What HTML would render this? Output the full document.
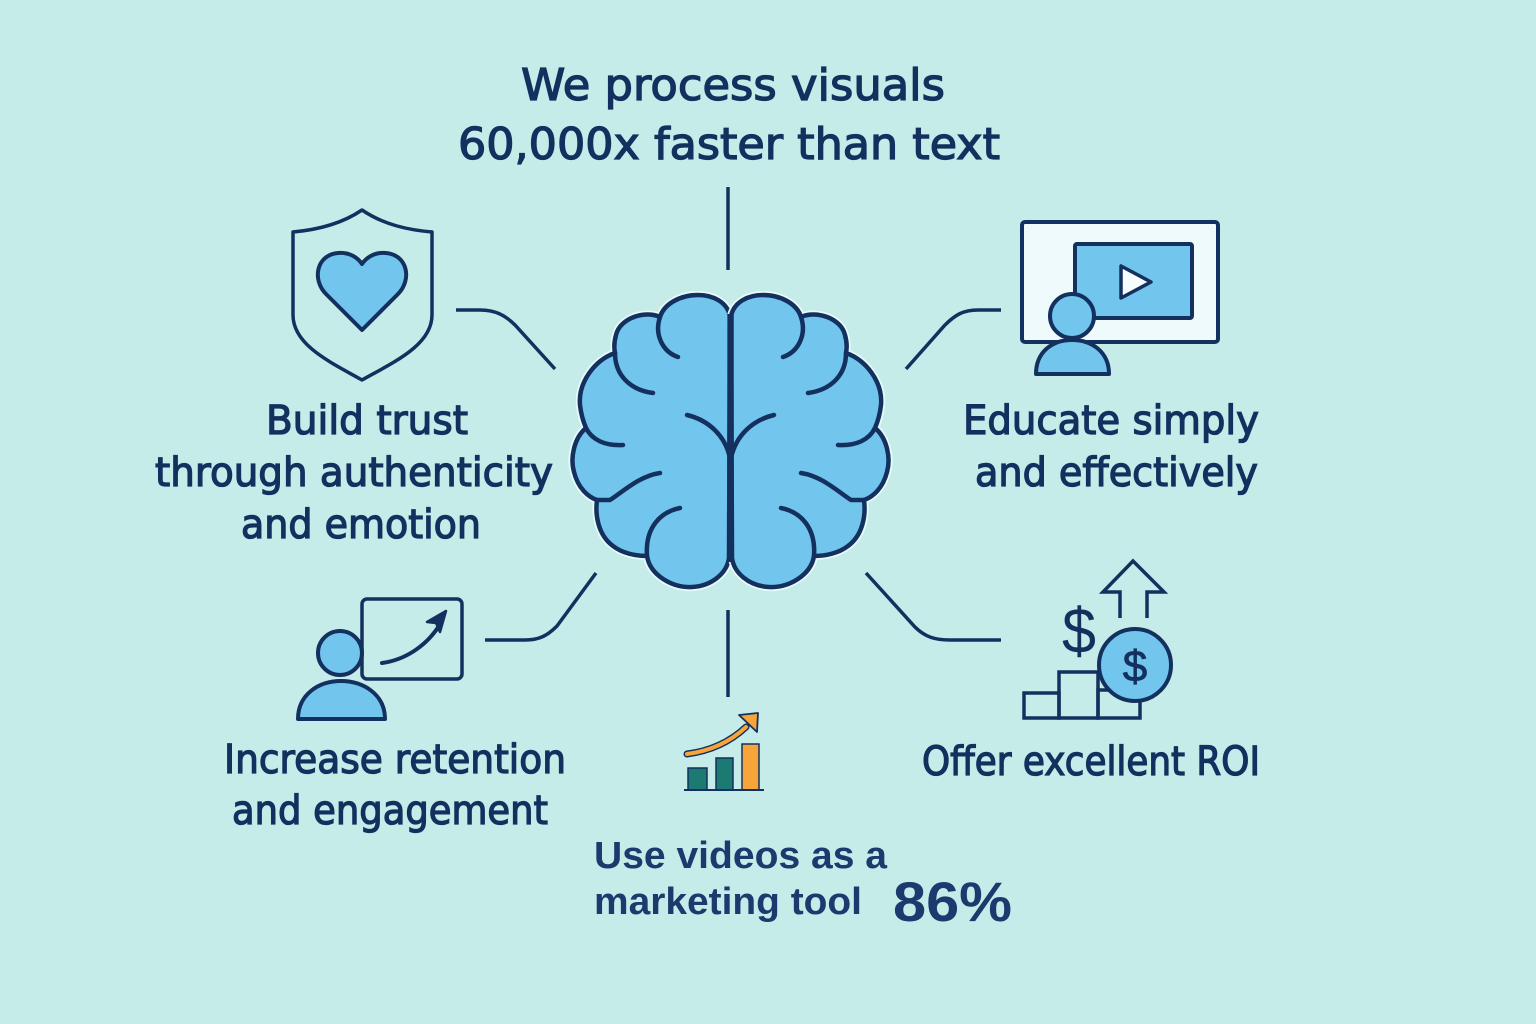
<!DOCTYPE html>
<html><head><meta charset="utf-8"><style>
html,body{margin:0;padding:0;background:#c6ecea;}
svg{display:block;}
.t{font-family:"DejaVu Sans","Liberation Sans",sans-serif;fill:#13305e;stroke:#13305e;stroke-width:1.3px;}
.a{font-family:"Liberation Sans",Arial,sans-serif;font-weight:bold;fill:#1b3a6e;}
</style></head><body>
<svg width="1536" height="1024" viewBox="0 0 1536 1024" xmlns="http://www.w3.org/2000/svg">
<rect width="1536" height="1024" fill="#c6ecea"/>

<!-- Title -->
<text class="t" x="521" y="100" font-size="44" textLength="424" lengthAdjust="spacingAndGlyphs">We process visuals</text>
<text class="t" x="458" y="159" font-size="44" textLength="542" lengthAdjust="spacingAndGlyphs">60,000x faster than text</text>

<!-- connectors -->
<g fill="none" stroke="#13305e" stroke-width="3.5" stroke-linecap="butt">
<path d="M728 187 L728 270"/>
<path d="M728 610 L728 697"/>
<path d="M456 310 L480 310 C495 310 505 315 515 325 L555 369"/>
<path d="M1001 310 L978 310 C963 310 955 315 945 325 L906 369"/>
<path d="M485 640 L525 640 C540 640 548 635 557 626 L596 573"/>
<path d="M866 573 L915 627 C925 637 935 640 950 640 L1001 640"/>
</g>

<!-- Brain -->
<g stroke-linecap="round" stroke-linejoin="round">
<path d="M730 316 C727 302 713 295 698 295 C680 295 664 304 660 317 C645 310 620 318 616 335 C614 342 614 348 615 353 C595 360 578 382 580 405 C581 414 583 421 586 428 C574 438 570 458 574 472 C578 488 588 497 597 500 C595 515 598 535 613 546 C622 553 635 556 647 556 C650 575 672 588 692 587 C712 586 727 573 729 558 L730 316 Z" fill="#72c5ec" stroke="#e8fbfb" stroke-width="8"/>
<path d="M730 316 C727 302 713 295 698 295 C680 295 664 304 660 317 C645 310 620 318 616 335 C614 342 614 348 615 353 C595 360 578 382 580 405 C581 414 583 421 586 428 C574 438 570 458 574 472 C578 488 588 497 597 500 C595 515 598 535 613 546 C622 553 635 556 647 556 C650 575 672 588 692 587 C712 586 727 573 729 558 L730 316 Z" fill="#72c5ec" stroke="#13305e" stroke-width="4.5"/>
<g fill="none" stroke="#13305e" stroke-width="4.5">
<path d="M660 317 C654 335 663 352 678 357"/>
<path d="M615 353 C615 375 630 390 653 393"/>
<path d="M586 428 C592 440 605 446 623 445"/>
<path d="M597 500 L610 500 C625 490 640 476 660 473"/>
<path d="M680 508 C660 512 645 528 647 556"/>
<path d="M730 458 C725 435 708 420 687 415"/>
</g>
</g>
<g transform="matrix(-1,0,0,1,1461,0)" stroke-linecap="round" stroke-linejoin="round">
<path d="M730 316 C727 302 713 295 698 295 C680 295 664 304 660 317 C645 310 620 318 616 335 C614 342 614 348 615 353 C595 360 578 382 580 405 C581 414 583 421 586 428 C574 438 570 458 574 472 C578 488 588 497 597 500 C595 515 598 535 613 546 C622 553 635 556 647 556 C650 575 672 588 692 587 C712 586 727 573 729 558 L730 316 Z" fill="#72c5ec" stroke="#e8fbfb" stroke-width="8"/>
<path d="M730 316 C727 302 713 295 698 295 C680 295 664 304 660 317 C645 310 620 318 616 335 C614 342 614 348 615 353 C595 360 578 382 580 405 C581 414 583 421 586 428 C574 438 570 458 574 472 C578 488 588 497 597 500 C595 515 598 535 613 546 C622 553 635 556 647 556 C650 575 672 588 692 587 C712 586 727 573 729 558 L730 316 Z" fill="#72c5ec" stroke="#13305e" stroke-width="4.5"/>
<g fill="none" stroke="#13305e" stroke-width="4.5">
<path d="M660 317 C654 335 663 352 678 357"/>
<path d="M615 353 C615 375 630 390 653 393"/>
<path d="M586 428 C592 440 605 446 623 445"/>
<path d="M597 500 L610 500 C625 490 640 476 660 473"/>
<path d="M680 508 C660 512 645 528 647 556"/>
<path d="M730 458 C725 435 708 420 687 415"/>
</g>
</g>
<path d="M730.5 314 L730.5 562" stroke="#13305e" stroke-width="6.5"/>

<!-- Shield + heart -->
<path d="M362 210 C340 225 315 230 293 232 L293 315 C293 345 330 362 362 380 C394 362 432 345 432 315 L432 232 C409 230 384 225 362 210 Z" fill="none" stroke="#13305e" stroke-width="3.5" stroke-linejoin="round"/>
<path d="M362 330 L326 294 C312 280 316 255 338 253 C350 252 358 258 362 264 C366 258 374 252 386 253 C408 255 412 280 398 294 Z" fill="#72c5ec" stroke="#13305e" stroke-width="4" stroke-linejoin="round"/>

<!-- Educate icon -->
<rect x="1022" y="222" width="196" height="120" rx="3" fill="#eefafc" stroke="#13305e" stroke-width="4"/>
<rect x="1075" y="244" width="117" height="74" rx="2" fill="#72c5ec" stroke="#13305e" stroke-width="4"/>
<path d="M1121 266 L1121 298 L1151 282 Z" fill="#f4fcfd" stroke="#13305e" stroke-width="3.5" stroke-linejoin="round"/>
<path d="M1036 374 C1036 352 1052 340 1072 340 C1092 340 1109 352 1109 374 Z" fill="#72c5ec" stroke="#13305e" stroke-width="4" stroke-linejoin="round"/>
<circle cx="1072" cy="316" r="22" fill="#72c5ec" stroke="#13305e" stroke-width="4"/>

<!-- Increase icon -->
<rect x="362" y="599" width="100" height="80" rx="5" fill="none" stroke="#13305e" stroke-width="3.5"/>
<path d="M382 663 C405 660 426 646 439 626" fill="none" stroke="#13305e" stroke-width="4" stroke-linecap="round"/>
<path d="M446 611 L427 622 L436 623 L440 632 Z" fill="#13305e" stroke="#13305e" stroke-width="2.5" stroke-linejoin="round"/>
<path d="M298 719 C298 695 318 681 341 681 C364 681 385 695 385 719 Z" fill="#72c5ec" stroke="#13305e" stroke-width="4" stroke-linejoin="round"/>
<circle cx="340" cy="653" r="22" fill="#72c5ec" stroke="#13305e" stroke-width="4"/>

<!-- ROI icon -->
<path d="M1120 618 L1120 592 L1103 592 L1133 561 L1164 592 L1147 592 L1147 618" fill="none" stroke="#13305e" stroke-width="3.5" stroke-linejoin="miter"/>
<text x="1079" y="653" font-family="Liberation Sans, sans-serif" font-size="64" text-anchor="middle" fill="#13305e" textLength="34" lengthAdjust="spacingAndGlyphs">$</text>
<rect x="1024" y="693" width="35" height="25" fill="none" stroke="#13305e" stroke-width="3.5"/>
<rect x="1059" y="672" width="39" height="46" fill="none" stroke="#13305e" stroke-width="3.5"/>
<rect x="1098" y="690" width="42" height="28" fill="none" stroke="#13305e" stroke-width="3.5"/>
<circle cx="1135" cy="665" r="36" fill="#72c5ec" stroke="#13305e" stroke-width="4"/>
<text x="1135" y="681" font-family="Liberation Sans, sans-serif" font-size="44" text-anchor="middle" fill="#13305e" stroke="#13305e" stroke-width="0.8">$</text>

<!-- bar chart -->
<rect x="688" y="768" width="19" height="22" fill="#1b7a72" stroke="#13305e" stroke-width="1.5"/>
<rect x="716" y="758" width="17" height="32" fill="#1b7a72" stroke="#13305e" stroke-width="1.5"/>
<rect x="742" y="744" width="17" height="46" fill="#f7a53b" stroke="#13305e" stroke-width="1.5"/>
<path d="M684 790 L764 790" stroke="#13305e" stroke-width="2"/>
<path d="M687 754 C710 751 730 742 746 727" fill="none" stroke="#13305e" stroke-width="7" stroke-linecap="round"/>
<path d="M687 754 C710 751 730 742 746 727" fill="none" stroke="#f7a53b" stroke-width="4" stroke-linecap="round"/>
<path d="M739 715 L758 713 L757 732 Z" fill="#f7a53b" stroke="#13305e" stroke-width="1.8" stroke-linejoin="round"/>

<!-- Labels -->
<text class="t" x="266" y="434" font-size="40" textLength="202" lengthAdjust="spacingAndGlyphs">Build trust</text>
<text class="t" x="155" y="486" font-size="40" textLength="398" lengthAdjust="spacingAndGlyphs">through authenticity</text>
<text class="t" x="241" y="538" font-size="40" textLength="240" lengthAdjust="spacingAndGlyphs">and emotion</text>

<text class="t" x="963" y="434" font-size="40" textLength="296" lengthAdjust="spacingAndGlyphs">Educate simply</text>
<text class="t" x="975" y="486" font-size="40" textLength="283" lengthAdjust="spacingAndGlyphs">and effectively</text>

<text class="t" x="224" y="773" font-size="40" textLength="342" lengthAdjust="spacingAndGlyphs">Increase retention</text>
<text class="t" x="232" y="824" font-size="40" textLength="316" lengthAdjust="spacingAndGlyphs">and engagement</text>

<text class="t" x="922" y="775" font-size="40" textLength="338" lengthAdjust="spacingAndGlyphs">Offer excellent ROI</text>

<text class="a" x="594" y="868" font-size="38" textLength="293" lengthAdjust="spacingAndGlyphs">Use videos as a</text>
<text class="a" x="594" y="914" font-size="38" textLength="268" lengthAdjust="spacingAndGlyphs">marketing tool</text>
<text class="a" x="893" y="921" font-size="56" textLength="119" lengthAdjust="spacingAndGlyphs">86%</text>
</svg>
</body></html>
